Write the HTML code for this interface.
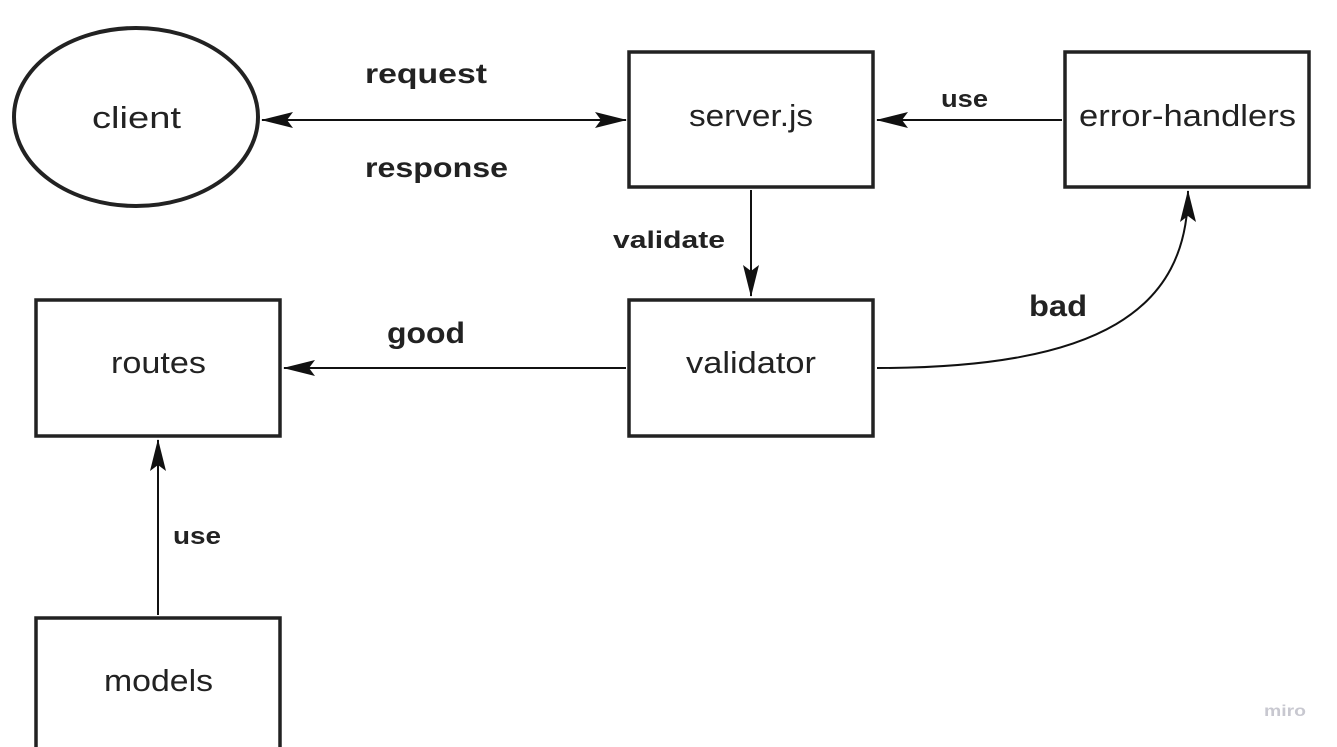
<!DOCTYPE html>
<html><head><style>
html,body{margin:0;padding:0;background:#fff;}
svg{display:block;}
.n{font-family:"Liberation Sans",sans-serif;font-size:31px;fill:#222;}
.b{font-family:"Liberation Sans",sans-serif;font-size:28px;font-weight:bold;fill:#222;}
</style></head><body>
<svg width="1337" height="747" viewBox="0 0 1337 747">
<defs>
<marker id="ar" viewBox="0 0 32 16" markerWidth="32" markerHeight="16" refX="31" refY="8" orient="auto" markerUnits="userSpaceOnUse">
<path d="M0,0 L32,8 L0,16 L6,8 z" fill="#111"/>
</marker>
<marker id="as" viewBox="0 0 32 16" markerWidth="32" markerHeight="16" refX="31" refY="8" orient="auto-start-reverse" markerUnits="userSpaceOnUse">
<path d="M0,0 L32,8 L0,16 L6,8 z" fill="#111"/>
</marker>
</defs>
<g fill="none" stroke="#222" stroke-width="3.5">
<ellipse cx="136" cy="117" rx="122" ry="89" stroke-width="4"/>
<rect x="629" y="52" width="244" height="135"/>
<rect x="1065" y="52" width="244" height="135"/>
<rect x="629" y="300" width="244" height="136"/>
<rect x="36" y="300" width="244" height="136"/>
<rect x="36" y="618" width="244" height="140"/>
</g>
<g fill="none" stroke="#111" stroke-width="2">
<line x1="262" y1="120" x2="626" y2="120" marker-start="url(#as)" marker-end="url(#ar)"/>
<line x1="1062" y1="120" x2="877" y2="120" marker-end="url(#ar)"/>
<line x1="751" y1="190" x2="751" y2="296" marker-end="url(#ar)"/>
<line x1="626" y1="368" x2="284" y2="368" marker-end="url(#ar)"/>
<line x1="158" y1="615" x2="158" y2="440" marker-end="url(#ar)"/>
<path d="M877,368 C1100,368 1188,310 1188,191" marker-end="url(#ar)"/>
</g>
<g lengthAdjust="spacingAndGlyphs">
<text class="n" x="92" y="128" textLength="89" lengthAdjust="spacingAndGlyphs">client</text>
<text class="n" x="689" y="126" textLength="124" lengthAdjust="spacingAndGlyphs">server.js</text>
<text class="n" x="1079" y="126" textLength="217" lengthAdjust="spacingAndGlyphs">error-handlers</text>
<text class="n" x="686" y="373" textLength="130" lengthAdjust="spacingAndGlyphs">validator</text>
<text class="n" x="111" y="373" textLength="95" lengthAdjust="spacingAndGlyphs">routes</text>
<text class="n" x="104" y="691" textLength="109" lengthAdjust="spacingAndGlyphs">models</text>
<text class="b" x="365" y="83" textLength="122" lengthAdjust="spacingAndGlyphs">request</text>
<text class="b" x="365" y="177" textLength="143" lengthAdjust="spacingAndGlyphs">response</text>
<text class="b" x="941" y="107" style="font-size:24px" textLength="47" lengthAdjust="spacingAndGlyphs">use</text>
<text class="b" x="613" y="248" style="font-size:24px" textLength="112" lengthAdjust="spacingAndGlyphs">validate</text>
<text class="b" x="387" y="343" style="font-size:30px" textLength="78" lengthAdjust="spacingAndGlyphs">good</text>
<text class="b" x="1029" y="316" style="font-size:30px" textLength="58" lengthAdjust="spacingAndGlyphs">bad</text>
<text class="b" x="173" y="544" style="font-size:24px" textLength="48" lengthAdjust="spacingAndGlyphs">use</text>
</g>
<text x="1264" y="716" textLength="42" lengthAdjust="spacingAndGlyphs" style="font-family:'Liberation Sans',sans-serif;font-size:16px;font-weight:bold;fill:#c8c8d0">miro</text>
</svg>
</body></html>
